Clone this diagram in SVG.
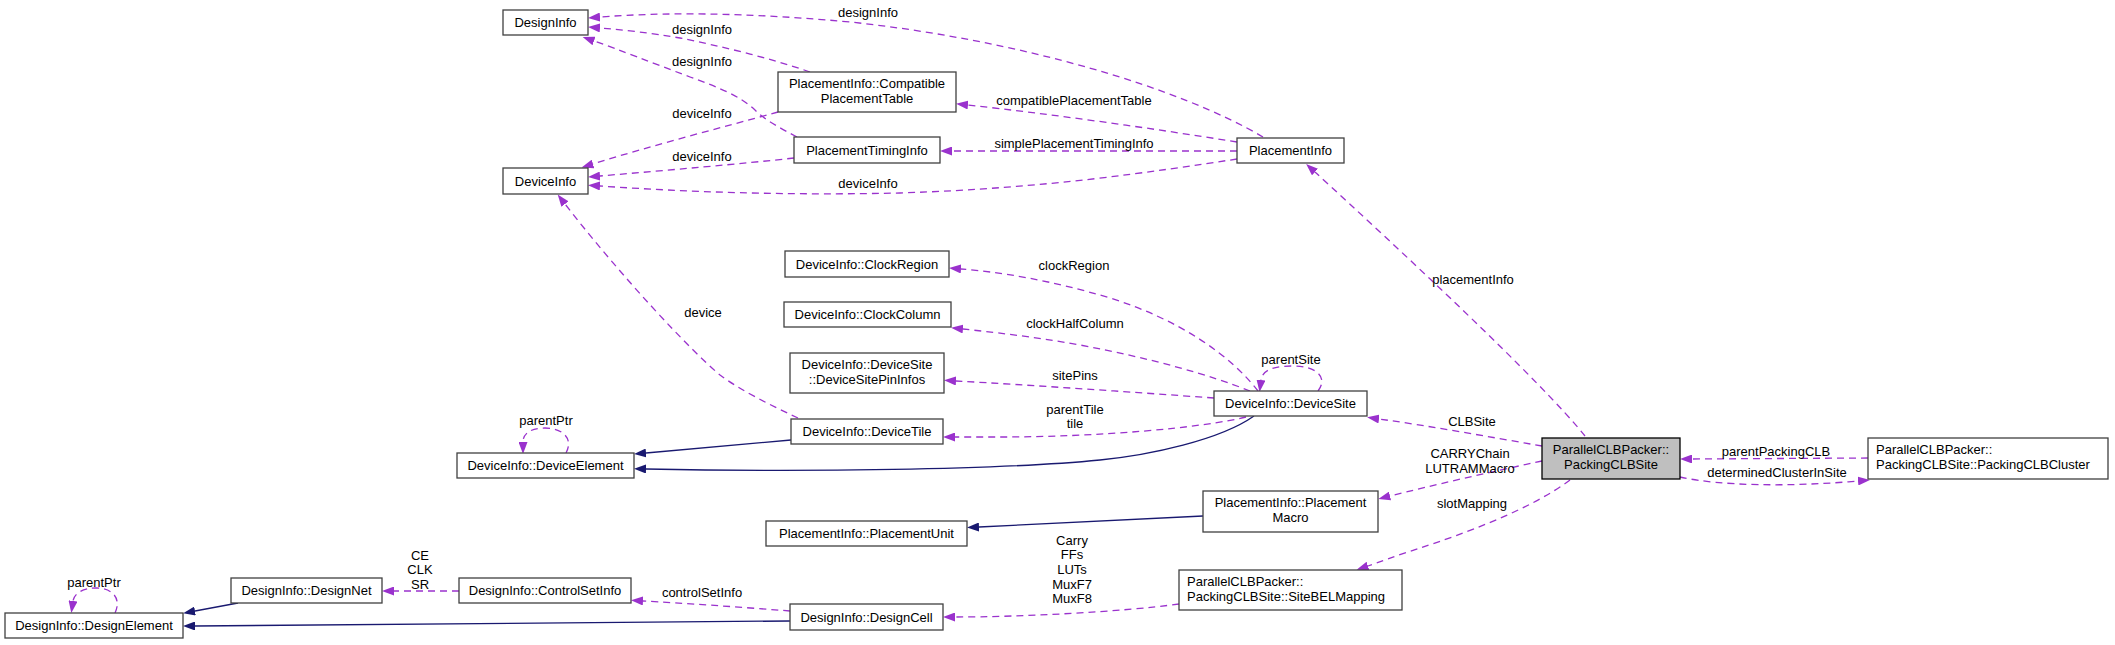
<svg xmlns="http://www.w3.org/2000/svg" width="2115" height="645" viewBox="0 0 2115 645">
<style>
.n rect{fill:#fff;stroke:#404040;stroke-width:1.3}
.n.h rect{fill:#bfbfbf;stroke:#000}
text{font-family:"Liberation Sans",Arial,sans-serif;font-size:13px;fill:#000}
.n text{text-anchor:middle}
.n text.l{text-anchor:start}
.d{fill:none;stroke:#9a32cd;stroke-width:1.3;stroke-dasharray:7,5;marker-end:url(#ap)}
.s{fill:none;stroke:#191970;stroke-width:1.3;marker-end:url(#an)}
.lb{text-anchor:middle}
</style>
<defs>
<marker id="ap" markerWidth="12" markerHeight="9" refX="0" refY="4.5" orient="auto" markerUnits="userSpaceOnUse"><path d="M0,0 L12,4.5 L0,9 z" fill="#9a32cd"/></marker>
<marker id="an" markerWidth="12" markerHeight="9" refX="0" refY="4.5" orient="auto" markerUnits="userSpaceOnUse"><path d="M0,0 L12,4.5 L0,9 z" fill="#191970"/></marker>
</defs>
<rect width="2115" height="645" fill="#fff"/>
<g id="connectors">
<path class="d" d="M1263,137 C1180,88 1020,40 850,22 C720,10 640,14 600,17"/>
<path class="d" d="M810,72 C770,58 720,46 680,38 C650,33 625,30 600,28"/>
<path class="d" d="M797,137 C780,128 765,120 755,110 C740,96 720,88 690,77 C650,62 620,50 594,41"/>
<path class="d" d="M778,112 C720,128 650,146 593,164"/>
<path class="d" d="M794,158 C740,164 670,170 600,176"/>
<path class="d" d="M1237,159 C1150,172 1050,188 900,193 C760,196 660,190 600,186"/>
<path class="d" d="M1237,142 C1150,128 1050,114 968,105"/>
<path class="d" d="M1237,151 L952,151"/>
<path class="d" d="M1585,436 C1540,380 1400,250 1315,172"/>
<path class="d" d="M1258,391 C1230,355 1180,320 1110,298 C1050,280 1000,272 961,269"/>
<path class="d" d="M1250,391 C1210,375 1150,358 1080,345 C1030,336 990,332 963,329"/>
<path class="d" d="M1214,398 C1130,392 1030,385 956,381"/>
<path class="d" d="M1246,417 C1200,428 1100,437 1000,437 L955,437"/>
<path class="d" d="M1318,391 C1328,378 1318,366 1292,366 C1270,366 1262,372 1261,380"/>
<path class="d" d="M798,418 C770,405 740,390 720,375 C690,350 620,275 565,204"/>
<path class="d" d="M566,453 C574,438 562,428 545,428 C530,428 523,434 523,442"/>
<path class="s" d="M791,440 L646,453"/>
<path class="s" d="M1254,416 C1220,440 1150,455 1100,460 C1000,470 800,472 646,469"/>
<path class="s" d="M1203,516 L979,527"/>
<path class="d" d="M1542,461 C1490,472 1430,486 1390,496"/>
<path class="d" d="M1542,446 C1490,437 1430,426 1379,419"/>
<path class="d" d="M1570,480 C1530,510 1460,535 1420,548 C1395,556 1380,562 1368,566"/>
<path class="d" d="M1179,604 C1120,612 1020,617 955,617"/>
<path class="d" d="M790,611 C740,607 680,603 643,601"/>
<path class="d" d="M459,591 L394,591"/>
<path class="s" d="M790,621 L195,626"/>
<path class="s" d="M238,603 L195,611"/>
<path class="d" d="M115,613 C122,598 112,588 96,588 C82,588 74,594 73,601"/>
<path class="d" d="M1868,458 L1692,459"/>
<path class="d" d="M1680,477 C1720,486 1790,487 1858,481"/>
<text class="lb" x="868" y="17">designInfo</text>
<text class="lb" x="702" y="34">designInfo</text>
<text class="lb" x="702" y="66">designInfo</text>
<text class="lb" x="702" y="118">deviceInfo</text>
<text class="lb" x="702" y="161">deviceInfo</text>
<text class="lb" x="868" y="188">deviceInfo</text>
<text class="lb" x="1074" y="105">compatiblePlacementTable</text>
<text class="lb" x="1074" y="148">simplePlacementTimingInfo</text>
<text class="lb" x="1473" y="284">placementInfo</text>
<text class="lb" x="1074" y="270">clockRegion</text>
<text class="lb" x="1075" y="328">clockHalfColumn</text>
<text class="lb" x="1075" y="380">sitePins</text>
<text class="lb" x="1075" y="414">parentTile</text>
<text class="lb" x="1075" y="428">tile</text>
<text class="lb" x="1291" y="364">parentSite</text>
<text class="lb" x="703" y="317">device</text>
<text class="lb" x="546" y="425">parentPtr</text>
<text class="lb" x="1470" y="458">CARRYChain</text>
<text class="lb" x="1470" y="473">LUTRAMMacro</text>
<text class="lb" x="1472" y="426">CLBSite</text>
<text class="lb" x="1472" y="508">slotMapping</text>
<text class="lb" x="1072" y="545">Carry</text>
<text class="lb" x="1072" y="559">FFs</text>
<text class="lb" x="1072" y="574">LUTs</text>
<text class="lb" x="1072" y="589">MuxF7</text>
<text class="lb" x="1072" y="603">MuxF8</text>
<text class="lb" x="702" y="597">controlSetInfo</text>
<text class="lb" x="420" y="560">CE</text>
<text class="lb" x="420" y="574">CLK</text>
<text class="lb" x="420" y="589">SR</text>
<text class="lb" x="94" y="587">parentPtr</text>
<text class="lb" x="1776" y="456">parentPackingCLB</text>
<text class="lb" x="1777" y="477">determinedClusterInSite</text>
</g>
<g id="DesignInfo" class="n"><rect x="503" y="10" width="85" height="25"/><text x="545.5" y="27">DesignInfo</text></g>
<g id="CompatiblePlacementTable" class="n"><rect x="778" y="72" width="178" height="40"/><text x="867" y="88">PlacementInfo::Compatible</text><text x="867" y="103">PlacementTable</text></g>
<g id="PlacementTimingInfo" class="n"><rect x="794" y="137" width="146" height="26"/><text x="867" y="155">PlacementTimingInfo</text></g>
<g id="DeviceInfo" class="n"><rect x="503" y="168" width="85" height="26"/><text x="545.5" y="186">DeviceInfo</text></g>
<g id="PlacementInfo" class="n"><rect x="1237" y="138" width="107" height="25"/><text x="1290.5" y="155">PlacementInfo</text></g>
<g id="ClockRegion" class="n"><rect x="785" y="251" width="164" height="26"/><text x="867" y="269">DeviceInfo::ClockRegion</text></g>
<g id="ClockColumn" class="n"><rect x="784" y="302" width="167" height="25"/><text x="867.5" y="319">DeviceInfo::ClockColumn</text></g>
<g id="DeviceSitePinInfos" class="n"><rect x="790" y="353" width="154" height="40"/><text x="867" y="369">DeviceInfo::DeviceSite</text><text x="867" y="384">::DeviceSitePinInfos</text></g>
<g id="DeviceSite" class="n"><rect x="1214" y="391" width="153" height="25"/><text x="1290.5" y="408">DeviceInfo::DeviceSite</text></g>
<g id="DeviceTile" class="n"><rect x="791" y="419" width="152" height="25"/><text x="867" y="436">DeviceInfo::DeviceTile</text></g>
<g id="DeviceElement" class="n"><rect x="457" y="453" width="177" height="25"/><text x="545.5" y="470">DeviceInfo::DeviceElement</text></g>
<g id="PackingCLBSite" class="n h"><rect x="1542" y="438" width="138" height="41"/><text x="1611" y="454">ParallelCLBPacker::</text><text x="1611" y="469">PackingCLBSite</text></g>
<g id="PackingCLBCluster" class="n"><rect x="1868" y="438" width="240" height="41"/><text class="l" x="1876" y="454">ParallelCLBPacker::</text><text class="l" x="1876" y="469">PackingCLBSite::PackingCLBCluster</text></g>
<g id="PlacementMacro" class="n"><rect x="1203" y="491" width="175" height="41"/><text x="1290.5" y="507">PlacementInfo::Placement</text><text x="1290.5" y="522">Macro</text></g>
<g id="PlacementUnit" class="n"><rect x="766" y="521" width="201" height="25"/><text x="866.5" y="538">PlacementInfo::PlacementUnit</text></g>
<g id="SiteBELMapping" class="n"><rect x="1179" y="570" width="223" height="40"/><text class="l" x="1187" y="586">ParallelCLBPacker::</text><text class="l" x="1187" y="601">PackingCLBSite::SiteBELMapping</text></g>
<g id="DesignCell" class="n"><rect x="790" y="604" width="153" height="26"/><text x="866.5" y="622">DesignInfo::DesignCell</text></g>
<g id="DesignElement" class="n"><rect x="5" y="613" width="178" height="25"/><text x="94" y="630">DesignInfo::DesignElement</text></g>
<g id="DesignNet" class="n"><rect x="231" y="578" width="151" height="25"/><text x="306.5" y="595">DesignInfo::DesignNet</text></g>
<g id="ControlSetInfo" class="n"><rect x="459" y="578" width="172" height="25"/><text x="545" y="595">DesignInfo::ControlSetInfo</text></g>
</svg>
